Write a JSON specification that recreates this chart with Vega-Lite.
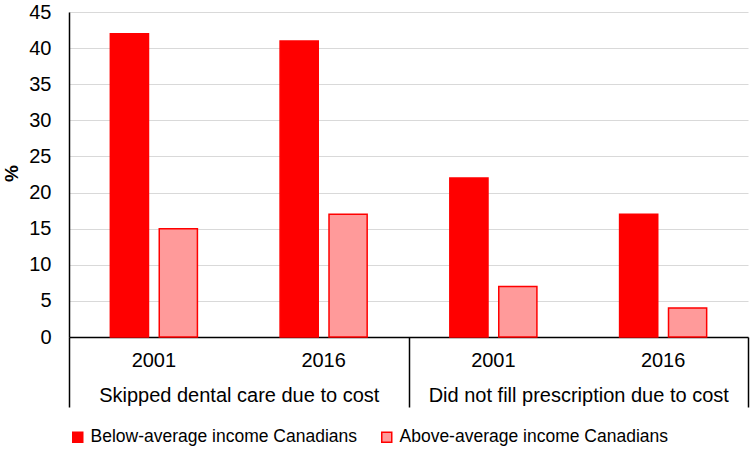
{
  "$schema": "https://vega.github.io/schema/vega-lite/v6.json",
  "autosize": {"type": "none"},
  "padding": {"left": 69, "top": 12, "right": 2, "bottom": 113},
  "width": 679,
  "height": 325,
  "background": "white",
  "config": {
    "font": "Liberation Sans",
    "view": {"stroke": null},
    "axis": {"labelFont": "Liberation Sans", "labelColor": "black", "titleColor": "black", "labelLimit": 0}
  },
  "data": {
    "values": [
      {"group": "Skipped dental care due to cost", "year": "2001", "slot": "A 2001", "income": "Below-average income Canadians", "value": 42},
      {"group": "Skipped dental care due to cost", "year": "2001", "slot": "A 2001", "income": "Above-average income Canadians", "value": 15},
      {"group": "Skipped dental care due to cost", "year": "2016", "slot": "A 2016", "income": "Below-average income Canadians", "value": 41},
      {"group": "Skipped dental care due to cost", "year": "2016", "slot": "A 2016", "income": "Above-average income Canadians", "value": 17},
      {"group": "Did not fill prescription due to cost", "year": "2001", "slot": "B 2001", "income": "Below-average income Canadians", "value": 22},
      {"group": "Did not fill prescription due to cost", "year": "2001", "slot": "B 2001", "income": "Above-average income Canadians", "value": 7},
      {"group": "Did not fill prescription due to cost", "year": "2016", "slot": "B 2016", "income": "Below-average income Canadians", "value": 17},
      {"group": "Did not fill prescription due to cost", "year": "2016", "slot": "B 2016", "income": "Above-average income Canadians", "value": 4}
    ]
  },
  "layer": [
    {
      "mark": {"type": "bar", "stroke": "#ff0000", "strokeWidth": 1.5},
      "encoding": {
        "x": {
          "field": "slot", "type": "nominal",
          "scale": {"paddingInner": 0, "paddingOuter": 0},
          "axis": {
            "title": null, "labelAngle": 0, "ticks": false,
            "labelExpr": "split(datum.label, ' ')[1]",
            "labelFontSize": 20, "labelPadding": 13,
            "domainColor": "black", "domainWidth": 1.5, "grid": false
          }
        },
        "xOffset": {
          "field": "income", "type": "nominal",
          "sort": ["Below-average income Canadians", "Above-average income Canadians"],
          "scale": {"paddingInner": 0.22, "paddingOuter": 0.845}
        },
        "y": {
          "field": "value", "type": "quantitative",
          "scale": {"domain": [0, 45], "nice": false},
          "axis": {
            "title": "%", "titleFontSize": 19, "titleFontWeight": "bold",
            "titleAngle": -90, "titleX": -58, "titleY": 161, "titleAlign": "center", "titleBaseline": "middle",
            "values": [0, 5, 10, 15, 20, 25, 30, 35, 40, 45],
            "ticks": false, "labelPadding": 18, "labelFontSize": 20,
            "domainColor": "black", "domainWidth": 1.5,
            "gridColor": "#d9d9d9", "gridWidth": 1.2
          }
        },
        "color": {
          "field": "income", "type": "nominal",
          "sort": ["Below-average income Canadians", "Above-average income Canadians"],
          "scale": {"range": ["#ff0000", "#ff9a9a"]},
          "legend": {
            "orient": "none", "legendX": 0, "legendY": 416, "direction": "horizontal",
            "title": null, "symbolType": "square", "symbolSize": 100,
            "symbolStrokeColor": "#ff0000", "symbolStrokeWidth": 1.5,
            "labelFontSize": 17.5, "labelColor": "black", "labelFont": "Liberation Sans", "labelLimit": 0,
            "columnPadding": 20, "labelOffset": 4
          }
        }
      }
    },
    {
      "mark": {"type": "point", "opacity": 0},
      "encoding": {
        "x": {
          "field": "group", "type": "nominal", "sort": null,
          "scale": {"paddingInner": 0, "paddingOuter": 0},
          "axis": {
            "title": null, "orient": "bottom", "labelAngle": 0, "domain": false,
            "ticks": true, "tickBand": "extent", "tickSize": 70, "tickColor": "black", "tickWidth": 1.5,
            "labelFontSize": 20, "labelPadding": -22, "labelColor": "black", "grid": false
          }
        }
      }
    }
  ],
  "resolve": {"scale": {"x": "independent"}, "axis": {"x": "independent"}}
}
